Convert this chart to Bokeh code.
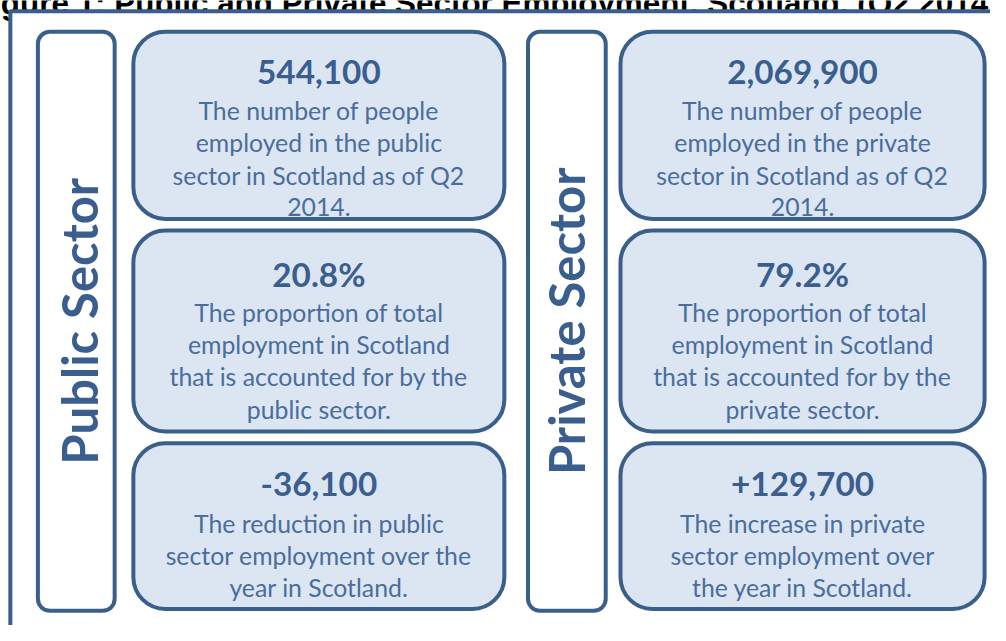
from math import pi
from bokeh.plotting import figure
from bokeh.models import Range1d
from bokeh.core.properties import value
from bokeh.embed import file_html
from bokeh.resources import INLINE

# ---- content ----
title = "Figure 1: Public and Private Sector Employment, Scotland, (Q2 2014)"
sectors = ["Public Sector", "Private Sector"]
public_values = ["544,100", "20.8%", "-36,100"]
private_values = ["2,069,900", "79.2%", "+129,700"]
public_desc = [
    ["The number of people", "employed in the public", "sector in Scotland as of Q2", "2014."],
    ["The proportion of total", "employment in Scotland", "that is accounted for by the", "public sector."],
    ["The reduction in public", "sector employment over the", "year in Scotland."],
]
private_desc = [
    ["The number of people", "employed in the private", "sector in Scotland as of Q2", "2014."],
    ["The proportion of total", "employment in Scotland", "that is accounted for by the", "private sector."],
    ["The increase in private", "sector employment over", "the year in Scotland."],
]

# ---- style ----
EDGE = "#3A5F8B"
FILL = "#DCE6F2"
HEAD = "#3A5E8E"
BODY = "#4A6D9C"
FONT = "Lato"

W, H = 990, 625
S = 0.98  # screen scale of the reference layout


def px(v):
    return f"{v * S:.1f}px"


p = figure(width=W, height=H, x_range=Range1d(0, 1006), y_range=Range1d(641, 0),
           output_backend="svg", toolbar_location=None, min_border=0)
p.axis.visible = False
p.grid.visible = False
p.outline_line_color = None
p.background_fill_color = "white"

# title line, clipped at the very top as in the source image
p.text(x=[-28], y=[3], text=[title], text_align="left", text_baseline="alphabetic",
       text_font=value("Liberation Sans"), text_font_style="bold", text_font_size=px(32),
       text_color="black")

# outer frame (partly clipped)
p.quad(left=[10], right=[1040], top=[11], bottom=[670], fill_color="white",
       line_color=EDGE, line_width=4)

# sector label boxes
label_boxes = [(38, 116), (536, 615)]
label_x = [80, 575]
for (l, r), lx, name in zip(label_boxes, label_x, sectors):
    p.quad(left=[l], right=[r], top=[32], bottom=[626], fill_color="white",
           line_color=EDGE, line_width=4, border_radius=12)
    p.text(x=[lx], y=[329], text=[name], angle=pi / 2, text_align="center",
           text_baseline="middle", text_font=value(FONT), text_font_style="bold",
           text_font_size=px(50), text_color=HEAD)

# stat boxes
cols = [(135, 512), (630, 1000)]
rows = [(32, 224), (236, 442), (454, 624)]
head_y = [73, 280, 496]
line_gap = 33
for (l, r), vals, descs in zip(cols, [public_values, private_values], [public_desc, private_desc]):
    cx = (l + r) / 2
    for (t, b), hy, v, d in zip(rows, head_y, vals, descs):
        p.quad(left=[l], right=[r], top=[t], bottom=[b], fill_color=FILL,
               line_color=EDGE, line_width=4, border_radius=32)
        p.text(x=[cx], y=[hy], text=[v], text_align="center", text_baseline="middle",
               text_font=value(FONT), text_font_style="bold", text_font_size=px(34),
               text_color=HEAD)
        ys = [hy + 40 + i * line_gap for i in range(len(d))]
        p.text(x=[cx] * len(d), y=ys, text=d, text_align="center", text_baseline="middle",
               text_font=value(FONT), text_font_size=px(25.3), text_color=BODY)

open("out.html", "w").write(file_html(p, INLINE))
